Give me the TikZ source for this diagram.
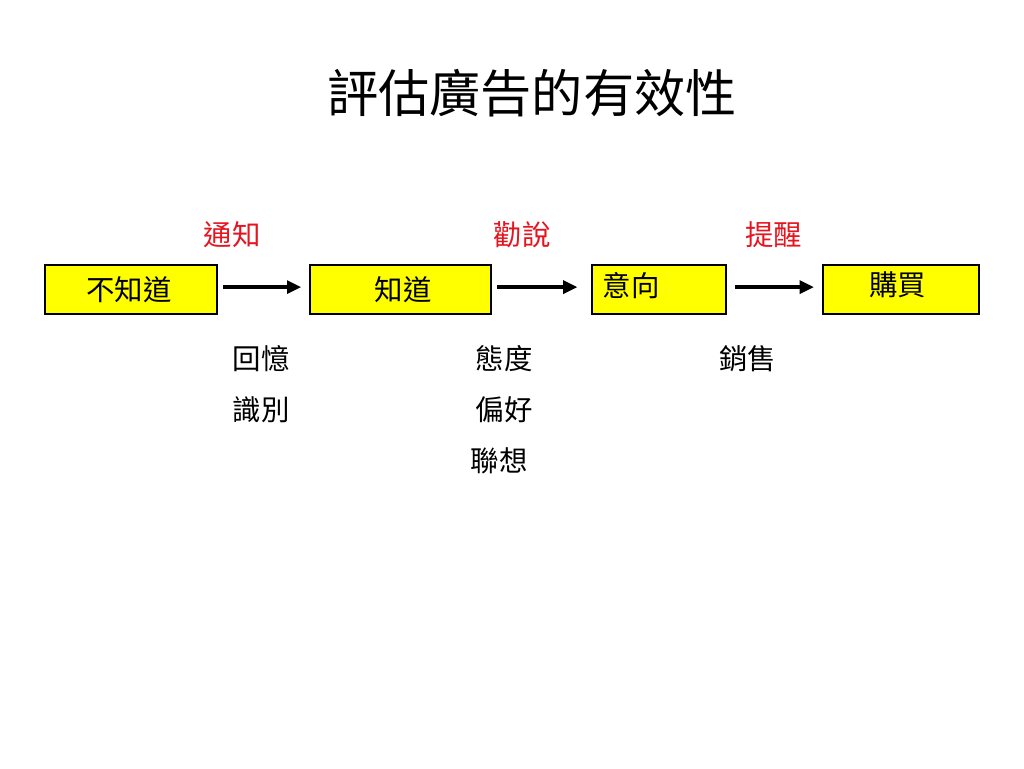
\documentclass[tikz,border=0pt]{standalone}
\usepackage{fontspec}
\newfontfamily\cjk{Noto Sans CJK TC}
\usetikzlibrary{arrows.meta}
\definecolor{boxyellow}{RGB}{255,255,0}
\definecolor{labelred}{RGB}{230,20,30}
\tikzset{
	stagebox/.style={draw=black, line width=1.5pt, fill=boxyellow, inner sep=0pt},
	stagetext/.style={font=\cjk\fontsize{20}{24}\selectfont},
	roletext/.style={font=\cjk\fontsize{20}{24}\selectfont, text=labelred},
	steparrow/.style={line width=2.8pt, -{Triangle[length=10pt,width=9pt]}, shorten <=3.5pt, shorten >=5.5pt}
}
\begin{document}
\begin{tikzpicture}[x=0.703pt,y=-0.703pt]

	%Background
	\draw[draw=white, fill=white] (0,0) rectangle (1024,768);
	\useasboundingbox (0,0) rectangle (1024,768);

	%Title
	\node[font=\cjk\fontsize{36}{42}\selectfont] (title) at (532,93) {評估廣告的有效性};

	%Stages
	\node[stagebox, minimum width=172*0.703pt, minimum height=49*0.703pt] (unaware) at (131,289.5) {};
	\node[stagetext] at (129,290) {不知道};
	\node[stagebox, minimum width=181*0.703pt, minimum height=49*0.703pt] (aware) at (400.5,289.5) {};
	\node[stagetext] at (403,290) {知道};
	\node[stagebox, minimum width=134*0.703pt, minimum height=49*0.703pt] (intent) at (659,289.5) {};
	\node[stagetext, anchor=west] at (598,285) {意向};
	\node[stagebox, minimum width=156*0.703pt, minimum height=49*0.703pt] (purchase) at (901,289.5) {};
	\node[stagetext] at (898,285) {購買};

	%Arrows
	\draw[steparrow] (unaware.east |- 0,287) -- (aware.west |- 0,287);
	\draw[steparrow, shorten >=9.5pt] (aware.east |- 0,287) -- (intent.west |- 0,287);
	\draw[steparrow, shorten <=5.5pt] (intent.east |- 0,287) -- (purchase.west |- 0,287);

	%Roles
	\node[roletext] (inform) at (232,235) {通知};
	\node[roletext] (persuade) at (522,235) {勸說};
	\node[roletext] (remind) at (774,235) {提醒};

	%Measures
	\node[stagetext] (recall) at (261,359) {回憶};
	\node[stagetext] (recog) at (261,410) {識別};
	\node[stagetext] (attitude) at (504,359) {態度};
	\node[stagetext] (prefer) at (504,410) {偏好};
	\node[stagetext] (assoc) at (499,461) {聯想};
	\node[stagetext] (sales) at (748,359) {銷售};

\end{tikzpicture}
\end{document}
